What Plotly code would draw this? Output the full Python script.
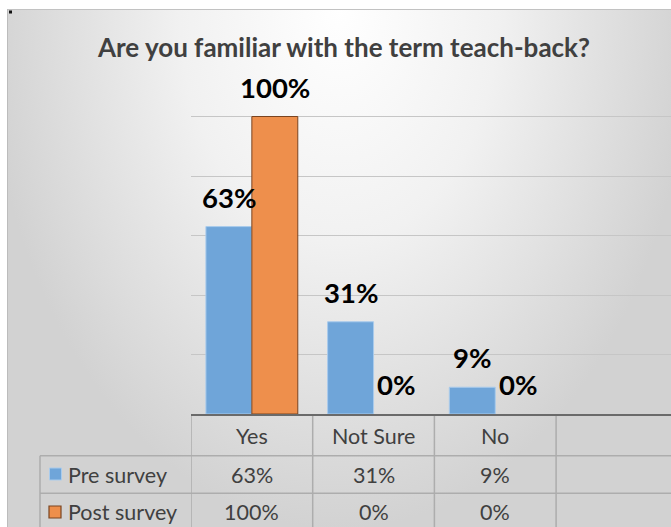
import base64
import plotly.graph_objects as go

# ---- data ----
categories = ["Yes", "Not Sure", "No"]
pre_survey = [0.63, 0.31, 0.09]
post_survey = [1.00, 0.00, 0.00]
series_names = ["Pre survey", "Post survey"]
title_text = "Are you familiar with the term teach-back?"

W, H = 671, 527
def px(x):
    return x / W
def py(y):
    return 1 - y / H

BLUE = "#6fa5d9"
BLUE_EDGE = "#a9cbec"
ORANGE = "#ee8f4c"
ORANGE_EDGE = "#7a4420"
TXT = "#404040"
GRID = "#c6c6c6"
TABLE_LINE = "#adadad"
FONT = "Lato"
BARGAP = 0.245

fig = go.Figure()
fig.add_trace(go.Bar(x=categories, y=pre_survey, name=series_names[0],
                     marker=dict(color=BLUE, line=dict(color=BLUE_EDGE,
                                                       width=[1 if v > 0 else 0 for v in pre_survey]))))
fig.add_trace(go.Bar(x=categories, y=post_survey, name=series_names[1],
                     marker=dict(color=ORANGE, line=dict(color=ORANGE_EDGE,
                                                         width=[1 if v > 0 else 0 for v in post_survey]))))

# background gradient (chart area)
svg = ('<svg xmlns="http://www.w3.org/2000/svg" width="664" height="518" viewBox="0 0 664 518">'
       '<defs><radialGradient id="g" gradientUnits="userSpaceOnUse" cx="332" cy="0" r="520" '
       'gradientTransform="translate(332,0) scale(0.68,1) translate(-332,0)">'
       '<stop offset="0" stop-color="#ffffff"/><stop offset="0.45" stop-color="#f1f1f1"/>'
       '<stop offset="1" stop-color="#d2d2d2"/></radialGradient></defs>'
       '<rect width="664" height="518" fill="url(#g)"/></svg>')
src = "data:image/svg+xml;base64," + base64.b64encode(svg.encode()).decode()
fig.add_layout_image(dict(source=src, xref="paper", yref="paper", x=px(7), y=py(9),
                          sizex=px(671) - px(7), sizey=py(9) - py(527),
                          xanchor="left", yanchor="top", sizing="stretch", layer="below"))

shapes = []
# chart area border
shapes.append(dict(type="line", xref="paper", yref="paper", x0=px(7), x1=1, y0=py(9.5), y1=py(9.5),
                   line=dict(color="#c2c2c2", width=1)))
shapes.append(dict(type="line", xref="paper", yref="paper", x0=px(7.5), x1=px(7.5), y0=py(9), y1=0,
                   line=dict(color="#bcbcbc", width=1)))

# data table
hdr_top, r1_top, r2_top, r2_bot = 416, 455.7, 493.3, 531
shapes.append(dict(type="line", xref="paper", yref="paper", x0=px(40), x1=1, y0=py(r1_top), y1=py(r1_top),
                   line=dict(color=TABLE_LINE, width=1.5)))
shapes.append(dict(type="line", xref="paper", yref="paper", x0=px(40), x1=1, y0=py(r2_top), y1=py(r2_top),
                   line=dict(color=TABLE_LINE, width=1.5)))
shapes.append(dict(type="line", xref="paper", yref="paper", x0=px(40), x1=px(40), y0=py(r1_top), y1=0,
                   line=dict(color=TABLE_LINE, width=1.5)))
for i in range(len(categories) + 1):
    shapes.append(dict(type="line", xref="x", yref="paper", x0=i - 0.5, x1=i - 0.5,
                       y0=py(hdr_top), y1=0, line=dict(color=TABLE_LINE, width=1.5)))
# legend keys
shapes.append(dict(type="rect", xref="paper", yref="paper", x0=px(49.5), x1=px(61.5),
                   y0=py(480), y1=py(468), fillcolor=BLUE, line=dict(color=BLUE_EDGE, width=1)))
shapes.append(dict(type="rect", xref="paper", yref="paper", x0=px(49), x1=px(61),
                   y0=py(518), y1=py(506), fillcolor=ORANGE, line=dict(color=ORANGE_EDGE, width=1.2)))
# small corner mark
shapes.append(dict(type="rect", xref="paper", yref="paper", x0=px(9), x1=px(12),
                   y0=py(13.5), y1=py(10.5), fillcolor="#111111", line=dict(width=0)))

ann = []
ann.append(dict(text="<b>" + title_text + "</b>", xref="paper", yref="paper", x=px(343.5), y=py(47),
                xanchor="center", yanchor="middle", showarrow=False,
                font=dict(family=FONT, size=26, color=TXT)))
off = (1 - BARGAP) / 4
for series, sign in ((pre_survey, -1), (post_survey, 1)):
    for i, v in enumerate(series):
        ann.append(dict(text="<b>%d%%</b>" % round(v * 100), xref="x", yref="y", x=i + sign * off, y=v,
                        xanchor="center", yanchor="bottom", yshift=11, showarrow=False,
                        font=dict(family=FONT, size=27.5, color="#000000")))
# table text
rows_y = [(hdr_top + r1_top) / 2, (r1_top + r2_top) / 2, (r2_top + r2_bot) / 2]
TS = 21.5
for i, c in enumerate(categories):
    ann.append(dict(text=c, xref="x", yref="paper", x=i, y=py(rows_y[0]), xanchor="center",
                    yanchor="middle", showarrow=False, font=dict(family=FONT, size=TS, color=TXT)))
    for r, series in enumerate((pre_survey, post_survey)):
        ann.append(dict(text="%d%%" % round(series[i] * 100), xref="x", yref="paper", x=i,
                        y=py(rows_y[r + 1]), xanchor="center", yanchor="middle", showarrow=False,
                        font=dict(family=FONT, size=TS, color=TXT)))
for r, name in enumerate(series_names):
    ann.append(dict(text=name, xref="paper", yref="paper", x=px(66), y=py(rows_y[r + 1]),
                    xanchor="left", yanchor="middle", showarrow=False,
                    font=dict(family=FONT, size=TS, color=TXT)))

band = 121.7
fig.update_layout(
    width=W, height=H, margin=dict(l=0, r=0, t=0, b=0),
    paper_bgcolor="#ffffff", plot_bgcolor="rgba(0,0,0,0)",
    showlegend=False, barmode="group", bargap=BARGAP, bargroupgap=0,
    shapes=shapes, annotations=ann,
    xaxis=dict(domain=[px(191), 1], type="category", range=[-0.5, -0.5 + (W - 191) / band],
               showticklabels=False, ticks="", showgrid=False, showline=True,
               linecolor="#6a6a6a", linewidth=1.5, fixedrange=True),
    yaxis=dict(domain=[py(414), py(57)], range=[0, 1.2], dtick=0.2, showticklabels=False,
               ticks="", showgrid=True, gridcolor=GRID, gridwidth=1, zeroline=False,
               showline=False, fixedrange=True),
)
fig.write_html("out.html", config={"displayModeBar": False},
               post_script="document.body.style.margin='0px';document.body.style.overflow='hidden';")
